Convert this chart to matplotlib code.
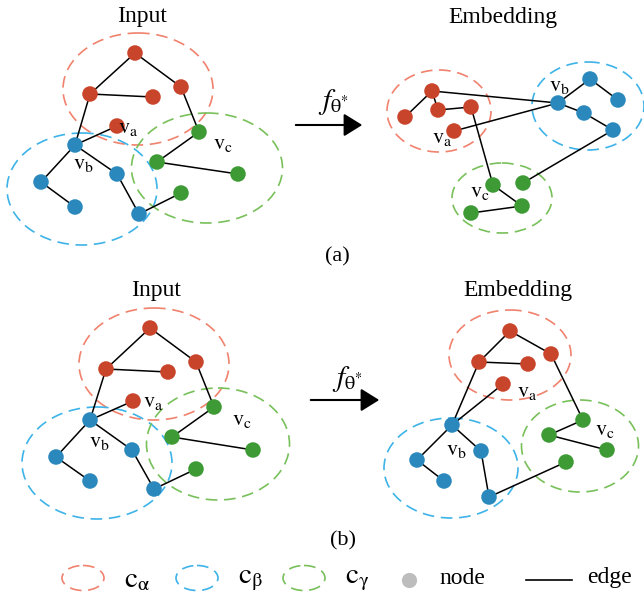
import matplotlib.pyplot as plt
from matplotlib.patches import Ellipse

plt.rcParams['font.family'] = ['Liberation Serif', 'DejaVu Serif']
plt.rcParams['mathtext.fontset'] = 'stix'

RED, BLUE, GREEN = '#c8442a', '#2a88bd', '#3d9a35'
RED_C, BLUE_C, GREEN_C = '#f0826e', '#3db3e8', '#78c05a'
node_colors = [RED] * 5 + [BLUE] * 5 + [GREEN] * 4

# node order: 4 red + v_a, v_b + 4 blue, v_c + 3 green
in_a_x = [135, 90, 153, 181, 117, 75, 41, 75, 117, 139, 199, 157, 238, 181]
in_a_y = [53, 94, 97, 87, 126, 145, 182, 207, 174, 214, 132, 162, 174, 193]
emb_a_x = [432, 405, 438, 471, 454, 558, 590, 618, 584, 613, 493, 523, 522, 471]
emb_a_y = [91, 117, 110, 107, 131, 103, 79, 100, 113, 130, 185, 183, 206, 213]
in_b_x = [150, 106, 168, 196, 133, 90, 56, 90, 132, 154, 214, 172, 253, 196]
in_b_y = [328, 369, 372, 362, 401, 420, 457, 481, 450, 489, 407, 437, 450, 469]
emb_b_x = [510, 479, 528, 551, 503, 452, 417, 444, 481, 489, 583, 549, 607, 566]
emb_b_y = [331, 362, 364, 354, 384, 425, 460, 481, 451, 497, 420, 435, 450, 462]

edges_graph = [(0, 1), (0, 3), (1, 2), (1, 5), (3, 10), (4, 5), (5, 6), (6, 7),
               (5, 8), (8, 9), (9, 13), (10, 11), (11, 12)]
edges_emb_a = [(0, 1), (0, 2), (2, 3), (0, 5), (3, 10), (4, 5), (5, 6), (6, 7),
               (5, 8), (8, 9), (9, 11), (10, 12), (12, 13)]

# community ellipses (cx, cy, w, h): alpha, beta, gamma
ell_in_a = [(138, 89, 150, 112), (82, 189, 150, 112), (207, 168, 151, 110)]
ell_emb_a = [(439, 111, 104, 82), (588, 106, 112, 88), (502, 198, 100, 70)]
ell_in_b = [(154, 364, 150, 112), (97, 463, 150, 112), (218, 444, 143, 112)]
ell_emb_b = [(510, 355, 122, 90), (451, 468, 134, 100), (580, 446, 117, 92)]

# label anchors for v_a, v_b, v_c
lab_in_a = [(118, 128), (73, 164), (213, 144)]
lab_emb_a = [(432, 138), (549, 87), (470, 193)]
lab_in_b = [(143, 403), (89, 442), (232, 420)]
lab_emb_b = [(517, 393), (446, 451), (595, 430)]
lab_text = [r'$\mathrm{v}_\mathrm{a}$', r'$\mathrm{v}_\mathrm{b}$', r'$\mathrm{v}_\mathrm{c}$']

fig = plt.figure(figsize=(6.44, 6.01), dpi=100)
ax = fig.add_axes([0, 0, 1, 1])
ax.set_xlim(0, 644)
ax.set_ylim(601, 0)
ax.axis('off')

dash = (0, (7, 4))


def draw_panel(xs, ys, edges, ells, labs):
    for (cx, cy, w, h), c in zip(ells, [RED_C, BLUE_C, GREEN_C]):
        ax.add_patch(Ellipse((cx, cy), w, h, fill=False, ec=c, lw=1.2, ls=dash, zorder=1))
    for i, j in edges:
        ax.plot([xs[i], xs[j]], [ys[i], ys[j]], color='black', lw=1.1, zorder=2)
    ax.scatter(xs, ys, s=125, c=node_colors, linewidths=0, zorder=3)
    for (lx, ly), t in zip(labs, lab_text):
        ax.text(lx, ly, t, fontsize=16, ha='left', va='center', zorder=4)


draw_panel(in_a_x, in_a_y, edges_graph, ell_in_a, lab_in_a)
draw_panel(emb_a_x, emb_a_y, edges_emb_a, ell_emb_a, lab_emb_a)
draw_panel(in_b_x, in_b_y, edges_graph, ell_in_b, lab_in_b)
draw_panel(emb_b_x, emb_b_y, edges_graph, ell_emb_b, lab_emb_b)

# titles
for x, y, t in [(142, 22, 'Input'), (503, 23, 'Embedding'),
                (156, 296, 'Input'), (518, 296, 'Embedding')]:
    ax.text(x, y, t, fontsize=17, ha='center', va='baseline')
ax.text(337, 257, '(a)', fontsize=16, ha='center', va='center')
ax.text(343, 541, '(b)', fontsize=16, ha='center', va='center')

# arrows f_theta*
for x0, x1, y, fx, fy in [(293, 365, 125, 333, 102), (308, 382, 400, 347, 379)]:
    ax.annotate('', xy=(x1, y), xytext=(x0, y),
                arrowprops=dict(arrowstyle='-|>,head_length=0.45,head_width=0.28',
                                lw=1.5, color='black', mutation_scale=25))
    ax.text(fx, fy, r'$f_{\mathrm{\theta}^{*}}$', fontsize=21, ha='center', va='center')

# legend
leg_ell_x = [83, 197, 304]
leg_names = [r'$\mathrm{c}_{\mathrm{\alpha}}$', r'$\mathrm{c}_{\mathrm{\beta}}$',
             r'$\mathrm{c}_{\mathrm{\gamma}}$']
for x, c, t in zip(leg_ell_x, [RED_C, BLUE_C, GREEN_C], leg_names):
    ax.add_patch(Ellipse((x, 578), 42, 25, fill=False, ec=c, lw=1.2, ls=dash))
    ax.text(x + 41, 580, t, fontsize=21, ha='left', va='center')
ax.scatter([409], [580], s=120, c='#bdbdbd', linewidths=0)
ax.text(439, 579, 'node', fontsize=17, ha='left', va='center')
ax.plot([526, 572], [580, 580], color='black', lw=1.2)
ax.text(587, 577, 'edge', fontsize=17, ha='left', va='center')

fig.savefig('out.png', dpi=100)
